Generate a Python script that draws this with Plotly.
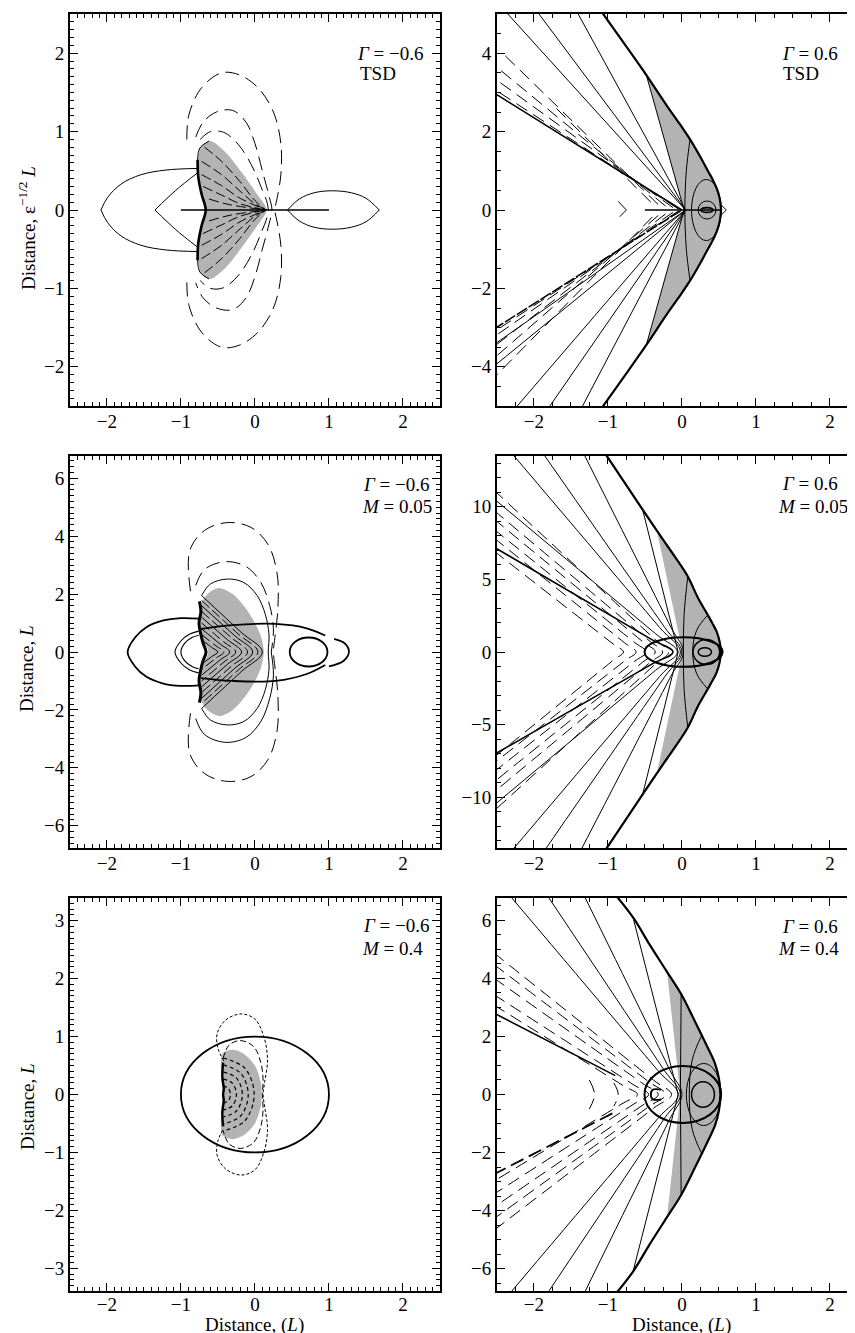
import plotly.graph_objects as go

# ---------------- data (data units) ----------------
# Panel 1: Gamma=-0.6, TSD
p1_gray = [(0.16, 0), (0.03, 0.2), (-0.18, 0.48), (-0.4, 0.74), (-0.6, 0.88), (-0.72, 0.82),
           (-0.77, 0.62), (-0.76, 0.38), (-0.69, 0.1), (-0.66, 0)]
p1_bold = [(-0.775, 0.64), (-0.765, 0.42), (-0.72, 0.2), (-0.665, 0)]
p1_rim = [(-0.775, 0.64), (-0.745, 0.79), (-0.62, 0.88)]
p1_hline = [(-1.0, 0), (1.0, 0)]
p1_lens_l = [(-0.78, 0.53), (-1.2, 0.51), (-1.54, 0.45), (-1.81, 0.33), (-1.99, 0.16), (-2.08, 0)]
p1_diamond = [(-0.78, 0.47), (-1.07, 0.25), (-1.35, 0)]
p1_lens_r = [(0.44, 0), (0.6, 0.14), (0.8, 0.22), (1.05, 0.245), (1.3, 0.22), (1.5, 0.15), (1.68, 0)]
p1_loops = [
    [(-0.92, 0.9), (-0.89, 1.22), (-0.72, 1.56), (-0.45, 1.75), (-0.2, 1.72), (0.05, 1.55),
     (0.25, 1.25), (0.35, 0.85), (0.35, 0.45), (0.3, 0.15), (0.27, 0)],
    [(-0.8, 0.93), (-0.7, 1.12), (-0.52, 1.25), (-0.3, 1.27), (-0.12, 1.12), (0.0, 0.85),
     (0.1, 0.5), (0.19, 0.18), (0.23, 0)],
    [(-0.74, 0.9), (-0.6, 1.0), (-0.42, 0.99), (-0.22, 0.83), (-0.05, 0.58), (0.08, 0.3),
     (0.18, 0)],
]
p1_inner = [
    [(-0.68, 0.8), (-0.45, 0.62), (-0.2, 0.36), (0.0, 0.12), (0.15, 0.0)],
    [(-0.72, 0.62), (-0.45, 0.45), (-0.2, 0.24), (0.0, 0.08), (0.15, 0.0)],
    [(-0.72, 0.45), (-0.45, 0.31), (-0.2, 0.15), (0.15, 0.0)],
    [(-0.7, 0.3), (-0.45, 0.19), (-0.2, 0.08), (0.15, 0.0)],
    [(-0.62, 0.14), (-0.35, 0.07), (0.15, 0.0)],
]

# Panel 2: Gamma=0.6, TSD
p2_hyp = [(0.53, 0), (0.51, 0.3), (0.47, 0.55), (0.41, 0.8), (0.35, 1.0), (0.25, 1.35),
          (0.11, 1.8), (-0.05, 2.25), (-0.2, 2.65), (-0.48, 3.44), (-0.8, 4.3), (-1.12, 5.15)]
p2_gray_k = 9
p2_gray_inner = (0.03, 0.0)
p2_fan_up = [(-2.4, 5.1), (-1.97, 5.1), (-1.43, 5.1)]
p2_fan_dn = [(-2.27, -5.1), (-1.82, -5.1), (-1.37, -5.1), (-2.55, -3.45), (-2.55, -4.0)]
p2_fan_v = (0.05, 0.0)
p2_heavy_up = [(-2.55, 3.0), (0.0, 0.0)]
p2_heavy_dn = [(-2.55, -3.05), (0.0, 0.0)]
p2_dash = [
    [(-0.05, 0.03), (-2.55, 3.1)], [(-0.12, 0.06), (-2.55, 3.38)], [(-0.22, 0.1), (-2.55, 3.72)],
    [(-0.32, 0.14), (-2.45, 4.05)], [(-0.42, 0.2), (-1.7, 2.6)],
    [(-0.05, -0.03), (-2.55, -3.12)], [(-0.12, -0.06), (-2.55, -3.25)], [(-0.22, -0.1), (-2.55, -3.5)],
    [(-0.32, -0.14), (-2.55, -3.8)], [(-0.4, -0.18), (-2.55, -4.3)],
]
p2_chev = [(-0.86, 0.22), (-0.75, 0), (-0.84, -0.17)]
p2_hline = [(-0.5, 0), (0.53, 0)]
p2_arc = [(0.11, 1.8), (0.06, 1.0), (0.04, 0)]
p2_rings = [(0.13, 0.53, -0.78, 0.78, 1.0), (0.22, 0.46, -0.23, 0.23, 1.0), (0.26, 0.42, -0.06, 0.06, 1.6)]
p2_tip = [(0.53, 0.13), (0.6, 0), (0.53, -0.13)]

# Panel 3: Gamma=-0.6, M=0.05
p3_gray = [(0.12, 0), (0.08, 0.55), (-0.02, 1.1), (-0.15, 1.6), (-0.3, 2.0), (-0.48, 2.21),
           (-0.62, 2.05), (-0.72, 1.7), (-0.73, 0.8), (-0.7, 0.35), (-0.64, 0.12), (-0.63, 0)]
p3_bold = [(-0.75, 1.75), (-0.73, 1.4), (-0.755, 1.0), (-0.73, 0.6), (-0.7, 0.3), (-0.66, 0)]
p3_half_ell = [(-0.75, 1.15), (-1.0, 1.17), (-1.25, 1.08), (-1.47, 0.85), (-1.62, 0.5), (-1.72, 0)]
p3_small_loops = [[(-0.76, 0.72), (-0.88, 0.62), (-1.0, 0.38), (-1.08, 0)],
                  [(-0.76, 0.58), (-0.85, 0.5), (-0.95, 0.3), (-1.0, 0)]]
p3_long_up = [(-0.73, 0.8), (-0.3, 0.93), (0.28, 0.97), (0.7, 0.82), (0.95, 0.57)]
p3_long_dn = [(-0.73, -0.9), (-0.3, -1.0), (0.28, -1.0), (0.7, -0.76), (0.95, -0.45)]
p3_rings = [(0.47, 0.98, -0.5, 0.5, 1.8)]
p3_right_arc = [(1.07, 0.45), (1.22, 0.28), (1.27, 0), (1.2, -0.3), (1.0, -0.5)]
p3_loopA = [(-0.72, 1.95), (-0.6, 2.35), (-0.37, 2.52), (-0.15, 2.4), (0.03, 1.95), (0.14, 1.3),
            (0.19, 0.6), (0.18, 0)]
p3_loopB = [(-0.8, 2.3), (-0.68, 2.85), (-0.4, 3.12), (-0.12, 2.95), (0.08, 2.4), (0.2, 1.6),
            (0.25, 0.8), (0.22, 0)]
p3_loopC = [(-0.87, 2.1), (-0.88, 3.5), (-0.68, 4.2), (-0.37, 4.47), (-0.05, 4.3), (0.18, 3.7),
            (0.3, 2.7), (0.31, 1.5), (0.27, 0.5), (0.25, 0)]
p3_nest_v = [0.1, 0.04, -0.03, -0.1, -0.18, -0.26, -0.34, -0.42, -0.5]
p3_nest_y = [1.95, 1.78, 1.6, 1.4, 1.2, 1.0, 0.8, 0.6, 0.42]

# Panel 4: Gamma=0.6, M=0.05
p4_hyp = [(0.53, 0), (0.51, 0.7), (0.47, 1.4), (0.41, 2.0), (0.35, 2.55), (0.22, 3.7), (0.08, 5.2),
          (-0.1, 6.6), (-0.25, 7.7), (-0.35, 8.45), (-0.53, 9.8), (-1.08, 14.0)]
p4_gray_k = 9
p4_gray_inner = (0.0, 0.0)
p4_black = [(-0.53, 9.8), (-0.05, 0), (-0.53, -9.8)]
p4_arc = [(0.08, 5.2), (0.03, 2.6), (0.02, 0)]
p4_arc2 = [(0.35, 2.55), (0.2, 1.5), (0.146, 0)]
p4_rings = [(-0.505, 0.55, -1.02, 1.02, 2.0), (0.15, 0.51, -0.86, 0.86, 1.5), (0.22, 0.40, -0.3, 0.3, 1.5)]
p4_fan = [((-2.35, 14), (-2.35, -14), -0.02), ((-1.92, 14), (-1.9, -14), 0.0),
          ((-1.36, 14), (-1.4, -14), 0.02), ((-2.55, 10.6), (-2.55, -10.6), -0.06)]
p4_heavy = [((-2.55, 7.26), (-2.55, -7.1), -0.12)]
p4_dash_v = [-0.79, -0.62, -0.48, -0.36, -0.26, -0.18]
p4_dash_up = [7.0, 7.9, 8.5, 9.2, 9.8, 11.2]
p4_dash_dn = [-7.3, -7.7, -8.3, -9.0, -9.7, -11.0]

# Panel 5: Gamma=-0.6, M=0.4
p5_gray = [(0.09, 0), (0.08, 0.2), (0.0, 0.5), (-0.15, 0.7), (-0.3, 0.77), (-0.44, 0.7), (-0.44, 0)]
p5_bold = [(-0.43, 0.55), (-0.44, 0.3), (-0.42, 0.1), (-0.43, 0)]
p5_outer = [(-0.42, 0.58), (-0.5, 0.8), (-0.51, 1.05), (-0.4, 1.28), (-0.19, 1.39), (0.0, 1.3),
            (0.12, 1.0), (0.17, 0.6), (0.13, 0.2), (0.11, 0)]
p5_inner_loop = [(-0.43, 0.62), (-0.35, 0.85), (-0.2, 0.93), (-0.02, 0.83), (0.08, 0.55), (0.11, 0.25),
                 (0.1, 0)]
p5_arc_c = -0.43
p5_arc_rx = [0.1, 0.18, 0.26, 0.34, 0.42]
p5_arc_ry = [0.15, 0.27, 0.39, 0.51, 0.63]
p5_circle = (-1.0, 1.0, -1.0, 1.0, 1.8)

# Panel 6: Gamma=0.6, M=0.4
p6_hyp = [(0.52, 0), (0.5, 0.55), (0.45, 1.05), (0.35, 1.61), (0.18, 2.5), (-0.01, 3.46),
          (-0.21, 4.26), (-0.44, 5.18), (-0.66, 6.1), (-0.97, 7.1)]
p6_gray_k = 6
p6_gray_inner = (-0.03, 0.0)
p6_black = [(-0.66, 6.1), (-0.05, 0), (-0.66, -6.1)]
p6_vline = [(-0.01, 3.46), (-0.015, 1.7), (-0.02, 0)]
p6_arc2 = [(0.27, 2.05), (0.14, 1.2), (0.1, 0)]
p6_rings = [(-0.505, 0.53, -0.98, 0.98, 2.0), (0.06, 0.53, -1.07, 1.07, 1.0), (0.13, 0.44, -0.44, 0.44, 1.5)]
p6_hook = [(-0.28, 0.17), (-0.39, 0.17), (-0.42, 0), (-0.39, -0.17), (-0.28, -0.17)]
p6_fan = [((-2.34, 6.9), (-2.34, -6.9), -0.05), ((-1.83, 6.9), (-1.83, -6.9), -0.02),
          ((-1.33, 6.9), (-1.33, -6.9), 0.0)]
p6_heavy_up = [(-2.55, 2.82), (-0.9, 0.65)]
p6_heavy_dn = [(-2.55, -2.76), (-0.9, -0.6)]
p6_dash_v = [-0.6, -0.45, -0.32, -0.22, -0.14]
p6_dash_up = [3.1, 3.46, 4.03, 4.5, 4.9]
p6_dash_dn = [-3.0, -3.45, -3.9, -4.3, -4.7]
p6_chevs = [[(-1.25, 0.5), (-1.18, 0), (-1.25, -0.5)], [(-0.92, 0.4), (-0.86, 0), (-0.92, -0.4)]]

# labels
panel_text = [("<i>Γ</i> = −0.6", "TSD"), ("<i>Γ</i> = 0.6", "TSD"),
              ("<i>Γ</i> = −0.6", "<i>M</i> = 0.05"), ("<i>Γ</i> = 0.6", "<i>M</i> = 0.05"),
              ("<i>Γ</i> = −0.6", "<i>M</i> = 0.4"), ("<i>Γ</i> = 0.6", "<i>M</i> = 0.4")]
y_titles = ["Distance, ε<sup>−1/2</sup> <i>L</i>", "Distance, <i>L</i>", "Distance, <i>L</i>"]
x_title = "Distance, (<i>L</i>)"

# ---------------- figure ----------------
W, H = 855, 1333
GRAY = "#b3b3b3"
FONT = "Liberation Serif, Times New Roman, Times, DejaVu Serif, serif"
LD = "14px,7px"   # long dash (left panels)
RD = "13px,7px"   # dash (right panels)

fig = go.Figure()
AX = {1: ("x", "y"), 2: ("x2", "y2"), 3: ("x3", "y3"), 4: ("x4", "y4"), 5: ("x5", "y5"), 6: ("x6", "y6")}


def xs_ys(pts):
    return [p[0] for p in pts], [p[1] for p in pts]


def flip(pts):
    return [(x, -y) for x, y in pts]


def sym(pts):
    return list(pts) + [(x, -y) for x, y in reversed(pts[:-1])]


def add_line(p, pts, w=1.0, dash="solid", shape="spline", color="black", smooth=1.0):
    xa, ya = AX[p]
    x, y = xs_ys(pts)
    ln = dict(color=color, width=w, dash=dash, shape=shape)
    if shape == "spline":
        ln["smoothing"] = smooth
    fig.add_trace(go.Scatter(x=x, y=y, mode="lines", xaxis=xa, yaxis=ya, line=ln,
                             hoverinfo="skip", showlegend=False))


def add_fill(p, pts, shape="spline", color=GRAY, smooth=0.8):
    xa, ya = AX[p]
    x, y = xs_ys(pts)
    ln = dict(width=0, shape=shape, color=color)
    if shape == "spline":
        ln["smoothing"] = smooth
    fig.add_trace(go.Scatter(x=x, y=y, mode="lines", fill="toself", fillcolor=color,
                             xaxis=xa, yaxis=ya, line=ln, hoverinfo="skip", showlegend=False))


def both(p, pts, **kw):
    add_line(p, pts, **kw)
    add_line(p, flip(pts), **kw)


def hyper(p, Eu, vx, Ed, r=0.12, **kw):
    V = (vx, 0.0)
    Pu = (V[0] + r * (Eu[0] - V[0]), V[1] + r * (Eu[1] - V[1]))
    Pd = (V[0] + r * (Ed[0] - V[0]), V[1] + r * (Ed[1] - V[1]))
    add_line(p, [Eu, Pu, V, Pd, Ed], **kw)


def ring(p, r):
    xa, ya = AX[p]
    fig.add_shape(type="circle", xref=xa, yref=ya, x0=r[0], x1=r[1], y0=r[2], y1=r[3],
                  line=dict(color="black", width=r[4]), layer="above")


def gray_from_hyp(hyp, k, inner):
    upper = list(reversed(hyp[:k + 1]))
    lower = flip(hyp[1:k + 1])
    return upper + lower + [inner]


# ---- Panel 1
add_fill(1, sym(p1_gray))
for lp in p1_loops:
    add_line(1, sym(lp), w=1.0, dash=LD)
for g in p1_inner:
    both(1, g, w=1.0, dash="10px,4px")
add_line(1, p1_hline, w=1.6, shape="linear")
both(1, p1_lens_l, w=1.0)
both(1, p1_diamond, w=1.0)
both(1, p1_lens_r, w=1.0)
both(1, p1_rim, w=1.0)
add_line(1, sym(p1_bold), w=2.6)

# ---- Panel 2
add_fill(2, gray_from_hyp(p2_hyp, p2_gray_k, p2_gray_inner), shape="linear")
add_line(2, [p2_hyp[p2_gray_k], p2_gray_inner, flip([p2_hyp[p2_gray_k]])[0]], w=1.0, shape="linear")
for e in p2_fan_up + p2_fan_dn:
    add_line(2, [e, p2_fan_v], w=1.0, shape="linear")
add_line(2, p2_heavy_up, w=1.5, shape="linear")
add_line(2, p2_heavy_dn, w=1.5, dash="12px,2px", shape="linear")
for d in p2_dash:
    add_line(2, d, w=1.0, dash=RD, shape="linear")
add_line(2, p2_chev, w=1.0, shape="linear")
add_line(2, sym(p2_arc), w=1.0)
for r in p2_rings:
    ring(2, r)
add_line(2, p2_hline, w=1.6, shape="linear")
add_line(2, p2_tip, w=1.0, shape="linear")
both(2, p2_hyp, w=2.2)

# ---- Panel 3
add_fill(3, sym(p3_gray))
for i, (vx, ye) in enumerate(zip(p3_nest_v, p3_nest_y)):
    hyper(3, (-0.72, ye), vx, (-0.72, -ye), r=0.35, w=1.0, dash=("solid" if i % 2 == 0 else "10px,4px"))
add_line(3, sym(p3_loopA), w=1.0)
add_line(3, p3_loopB, w=1.0, dash=LD)
add_line(3, flip(p3_loopB), w=1.0)
add_line(3, sym(p3_loopC), w=1.0, dash=LD)
add_line(3, sym(p3_half_ell), w=1.8)
for sl in p3_small_loops:
    add_line(3, sym(sl), w=1.1)
add_line(3, p3_long_up, w=1.8)
add_line(3, p3_long_dn, w=1.8)
for r in p3_rings:
    ring(3, r)
add_line(3, p3_right_arc, w=1.8)
add_line(3, sym(p3_bold), w=3.0)

# ---- Panel 4
add_fill(4, gray_from_hyp(p4_hyp, p4_gray_k, p4_gray_inner), shape="linear")
add_line(4, [p4_hyp[p4_gray_k], p4_gray_inner, flip([p4_hyp[p4_gray_k]])[0]], w=1.2,
         color="white", shape="linear")
add_line(4, p4_black, w=1.0, shape="linear")
for eu, ed, vx in p4_fan:
    hyper(4, eu, vx, ed, w=1.0)
for eu, ed, vx in p4_heavy:
    hyper(4, eu, vx, ed, w=1.6)
for vx, yu, yd in zip(p4_dash_v, p4_dash_up, p4_dash_dn):
    hyper(4, (-2.55, yu), vx, (-2.55, yd), r=0.08, w=1.0, dash=RD)
add_line(4, sym(p4_arc), w=1.0)
add_line(4, sym(p4_arc2), w=1.0)
for r in p4_rings:
    ring(4, r)
both(4, p4_hyp, w=2.2)

# ---- Panel 5
add_fill(5, sym(p5_gray))
for rx, ry in zip(p5_arc_rx, p5_arc_ry):
    c = p5_arc_c
    add_line(5, [(c, ry), (c + 0.7 * rx, 0.72 * ry), (c + rx, 0), (c + 0.7 * rx, -0.72 * ry), (c, -ry)],
             w=1.2, dash="4px,3px")
add_line(5, sym(p5_outer), w=1.0, dash="3px,2px")
add_line(5, sym(p5_inner_loop), w=1.0, dash="6px,3px")
ring(5, p5_circle)
add_line(5, sym(p5_bold), w=2.4)

# ---- Panel 6
add_fill(6, gray_from_hyp(p6_hyp, p6_gray_k, p6_gray_inner), shape="linear")
add_line(6, [p6_hyp[p6_gray_k], p6_gray_inner, flip([p6_hyp[p6_gray_k]])[0]], w=1.2,
         color="white", shape="linear")
add_line(6, p6_black, w=1.0, shape="linear")
add_line(6, sym(p6_vline), w=1.0)
add_line(6, sym(p6_arc2), w=1.0)
for eu, ed, vx in p6_fan:
    hyper(6, eu, vx, ed, w=1.0)
add_line(6, p6_heavy_up, w=1.6, shape="linear")
add_line(6, p6_heavy_dn, w=1.8, dash="14px,6px", shape="linear")
for vx, yu, yd in zip(p6_dash_v, p6_dash_up, p6_dash_dn):
    hyper(6, (-2.55, yu), vx, (-2.55, yd), r=0.1, w=1.0, dash=RD)
for ch in p6_chevs:
    add_line(6, ch, w=1.0, dash=RD)
for r in p6_rings:
    ring(6, r)
add_line(6, p6_hook, w=1.8)
both(6, p6_hyp, w=2.2)

# ---------------- layout ----------------
colx = [[62 / W, 433 / W], [490 / W, 1.0]]
rowy = [[1 - 398 / H, 1 - 6 / H], [1 - 840 / H, 1 - 448 / H], [1 - 1283 / H, 1 - 890 / H]]
xr = [[-2.5, 2.5], [-2.5, 2.42]]
yranges = [[-2.5, 2.5], [-5, 5], [-6.77, 6.77], [-13.5, 13.5], [-3.39, 3.39], [-6.77, 6.77]]
ydt = [1, 2, 2, 5, 1, 2]
yminor = [0.1, 0.5, 0.2, 1, 0.1, 0.5]
xminor = [0.1, 0.25]

layout = dict(width=W, height=H, margin=dict(l=0, r=0, t=0, b=0), plot_bgcolor="white",
              paper_bgcolor="white", showlegend=False, font=dict(family=FONT, size=19, color="black"))
common = dict(showline=True, linecolor="black", linewidth=1.5, mirror="ticks", ticks="inside",
              ticklen=8, tickwidth=1.2, tickcolor="black", showgrid=False, zeroline=False,
              tickfont=dict(family=FONT, size=19, color="black"), fixedrange=True)
for n in range(1, 7):
    c = (n - 1) % 2
    r = (n - 1) // 2
    sx = "" if n == 1 else str(n)
    layout["xaxis" + sx] = dict(domain=colx[c], range=xr[c], dtick=1, tick0=0, anchor="y" + sx,
                                ticklabelstandoff=(-5 if r == 2 else -3),
                                minor=dict(dtick=xminor[c], tick0=0, ticks="inside", ticklen=4,
                                           tickcolor="black", tickwidth=1), **common)
    layout["yaxis" + sx] = dict(domain=rowy[r], range=yranges[n - 1], dtick=ydt[n - 1], tick0=0,
                                anchor="x" + sx,
                                minor=dict(dtick=yminor[n - 1], tick0=0, ticks="inside", ticklen=4,
                                           tickcolor="black", tickwidth=1), **common)
fig.update_layout(**layout)

ann = []
txt_pos = [(348, 46, 351, 66), (774, 46, 775, 66), (354, 476, 353, 498), (774, 475, 770, 498),
           (354, 917, 353, 940), (774, 918, 770, 940)]
for (l1, l2), (x1, y1, x2, y2) in zip(panel_text, txt_pos):
    ann.append(dict(text=l1, x=x1 / W, y=1 - y1 / H, xref="paper", yref="paper", xanchor="left",
                    yanchor="middle", showarrow=False, font=dict(family=FONT, size=19, color="black")))
    ann.append(dict(text=l2, x=x2 / W, y=1 - y2 / H, xref="paper", yref="paper", xanchor="left",
                    yanchor="middle", showarrow=False, font=dict(family=FONT, size=19, color="black")))
for t, yc in zip(y_titles, [220, 660, 1098]):
    ann.append(dict(text=t, x=19 / W, y=1 - yc / H, xref="paper", yref="paper", textangle=-90,
                    xanchor="center", yanchor="middle", showarrow=False,
                    font=dict(family=FONT, size=19, color="black")))
for xc in [247.5, 675.5]:
    ann.append(dict(text=x_title, x=xc / W, y=1 - 1317 / H, xref="paper", yref="paper",
                    xanchor="center", yanchor="middle", showarrow=False,
                    font=dict(family=FONT, size=19, color="black")))
fig.update_layout(annotations=ann)

fig.write_html("out.html")
